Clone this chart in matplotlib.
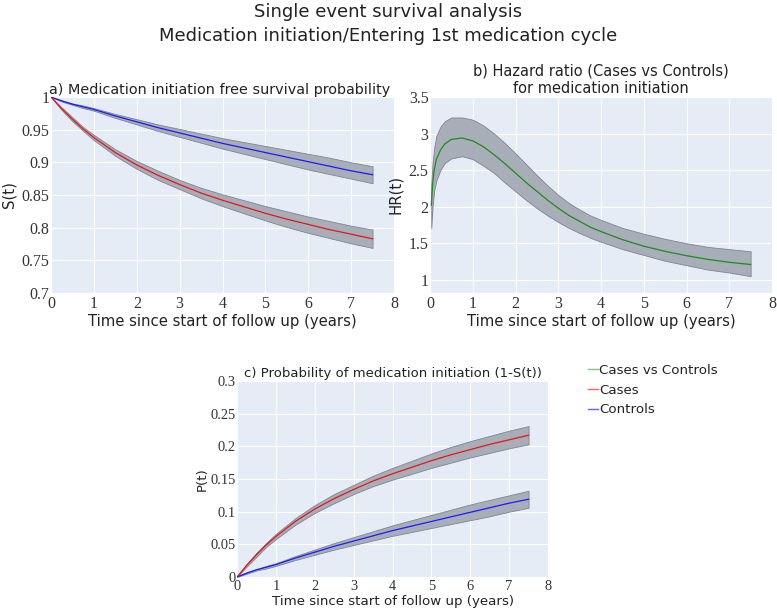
import matplotlib
matplotlib.use("Agg")
import matplotlib.pyplot as plt
import numpy as np

# ---------------- data ----------------
t_surv = [0, 0.25, 0.5, 0.75, 1, 1.5, 2, 2.5, 3, 3.5, 4, 4.5, 5, 5.5, 6, 6.5, 7, 7.5]
# probability of medication initiation (1 - S(t))
p_cases = [0, 0.018, 0.034, 0.049, 0.062, 0.085, 0.104, 0.120, 0.134, 0.147, 0.158,
           0.168, 0.178, 0.187, 0.195, 0.203, 0.210, 0.217]
p_cases_lo = [0, 0.016, 0.031, 0.046, 0.058, 0.080, 0.098, 0.113, 0.127, 0.139, 0.149,
              0.158, 0.167, 0.175, 0.183, 0.190, 0.197, 0.203]
p_cases_hi = [0, 0.020, 0.037, 0.052, 0.066, 0.090, 0.110, 0.127, 0.141, 0.155, 0.167,
              0.178, 0.189, 0.199, 0.208, 0.216, 0.224, 0.231]
p_ctrl = [0, 0.006, 0.011, 0.015, 0.019, 0.029, 0.038, 0.047, 0.055, 0.063, 0.071,
          0.078, 0.085, 0.092, 0.099, 0.106, 0.113, 0.119]
p_ctrl_lo = [0, 0.005, 0.010, 0.013, 0.017, 0.026, 0.034, 0.042, 0.049, 0.056, 0.063,
             0.069, 0.075, 0.081, 0.087, 0.093, 0.100, 0.106]
p_ctrl_hi = [0, 0.007, 0.012, 0.017, 0.021, 0.032, 0.042, 0.052, 0.061, 0.070, 0.079,
             0.087, 0.095, 0.103, 0.111, 0.118, 0.125, 0.132]

t_hr = [0.03, 0.06, 0.1, 0.15, 0.25, 0.35, 0.5, 0.75, 1, 1.25, 1.5, 1.75, 2, 2.25, 2.5,
        2.75, 3, 3.25, 3.5, 3.75, 4, 4.5, 5, 5.5, 6, 6.5, 7, 7.5]
hr = [2.02, 2.30, 2.51, 2.65, 2.78, 2.86, 2.92, 2.94, 2.90, 2.82, 2.71, 2.59, 2.46, 2.33,
      2.21, 2.09, 1.98, 1.88, 1.80, 1.72, 1.66, 1.55, 1.46, 1.39, 1.33, 1.28, 1.24, 1.21]
hr_hi = [2.30, 2.60, 2.81, 2.97, 3.10, 3.17, 3.22, 3.22, 3.19, 3.11, 3.00, 2.87, 2.73, 2.58,
         2.43, 2.29, 2.16, 2.05, 1.96, 1.88, 1.82, 1.71, 1.63, 1.56, 1.50, 1.45, 1.42, 1.39]
hr_lo = [1.71, 2.00, 2.23, 2.36, 2.51, 2.60, 2.66, 2.69, 2.65, 2.56, 2.46, 2.33, 2.21, 2.09,
         1.98, 1.88, 1.79, 1.71, 1.64, 1.575, 1.52, 1.42, 1.34, 1.26, 1.20, 1.14, 1.10, 1.05]

x_ticks = [0, 1, 2, 3, 4, 5, 6, 7, 8]
yticks_a = [0.7, 0.75, 0.8, 0.85, 0.9, 0.95, 1]
yticks_b = [1, 1.5, 2, 2.5, 3, 3.5]
yticks_c = [0, 0.05, 0.1, 0.15, 0.2, 0.25, 0.3]

legend_labels = ["Cases vs Controls", "Cases", "Controls"]
legend_colors = ["#2ca02c", "#ff0000", "#0000ff"]

# ---------------- style ----------------
BG = "#E5ECF6"
BAND = "#A8AEB8"
BAND_EDGE = "#7E8591"
SANS = ["DejaVu Sans"]
SERIF = ["Liberation Serif"]
RED = "#e8141a"
BLUE = "#1a1aff"
GREEN = "#1f8a1f"
TXT = "#222222"

W, H = 777, 614
fig = plt.figure(figsize=(W / 100, H / 100), dpi=100)


def add_ax(left, top, right, bottom):
    return fig.add_axes([left / W, 1 - bottom / H, (right - left) / W, (bottom - top) / H])


def style(ax, yticks, ylim, ylabel, k=1.0, ylabelpad=4):
    ax.set_facecolor(BG)
    ax.set_xlim(0, 8)
    ax.set_ylim(*ylim)
    ax.set_xticks(x_ticks)
    ax.set_yticks(yticks)
    ax.set_xticklabels([f"{v:g}" for v in x_ticks], fontfamily=SERIF, fontsize=11.5 * k)
    ax.set_yticklabels([f"{v:g}" for v in yticks], fontfamily=SERIF, fontsize=11.5 * k)
    ax.tick_params(axis="y", length=0, pad=1, colors="#333333")
    ax.tick_params(axis="x", length=0, pad=2.5 * k, colors="#333333")
    ax.grid(True, color="white", linewidth=0.8)
    ax.set_axisbelow(True)
    for s in ax.spines.values():
        s.set_visible(False)
    ax.set_xlabel("Time since start of follow up (years)", fontfamily=SANS, fontsize=10.7 * k,
                  color=TXT, labelpad=1)
    ax.set_ylabel(ylabel, fontfamily=SANS, fontsize=10.7 * k, color=TXT, labelpad=ylabelpad)


def band(ax, x, lo, hi):
    ax.fill_between(x, lo, hi, facecolor=BAND, edgecolor=BAND_EDGE, linewidth=0.6, zorder=2)


ta = np.array(t_surv)
# a) survival
axa = add_ax(51, 97, 394, 293)
style(axa, yticks_a, (0.7, 1.0), "S(t)")
band(axa, ta, 1 - np.array(p_ctrl_hi), 1 - np.array(p_ctrl_lo))
band(axa, ta, 1 - np.array(p_cases_hi), 1 - np.array(p_cases_lo))
axa.plot(ta, 1 - np.array(p_ctrl), color=BLUE, lw=0.9, zorder=3)
axa.plot(ta, 1 - np.array(p_cases), color=RED, lw=0.9, zorder=3)
axa.set_title("a) Medication initiation free survival probability", fontfamily=SANS,
              fontsize=10.4, loc="left", pad=2, x=-0.005, color=TXT)

# b) hazard ratio
axb = add_ax(430, 97, 772, 293)
style(axb, yticks_b, (0.82, 3.5), "HR(t)")
band(axb, t_hr, hr_lo, hr_hi)
axb.plot(t_hr, hr, color=GREEN, lw=0.9, zorder=3)
axb.set_title("b) Hazard ratio (Cases vs Controls)\nfor medication initiation",
              fontfamily=SANS, fontsize=10.5, pad=3, color=TXT, linespacing=1.2)

# c) probability (slightly smaller panel, smaller type)
kc = 0.9
axc = add_ax(237, 381, 548, 577)
style(axc, yticks_c, (0, 0.3), "P(t)", k=kc, ylabelpad=1)
band(axc, ta, p_cases_lo, p_cases_hi)
band(axc, ta, p_ctrl_lo, p_ctrl_hi)
axc.plot(ta, p_cases, color=RED, lw=0.9, zorder=3)
axc.plot(ta, p_ctrl, color=BLUE, lw=0.9, zorder=3)
axc.set_title("c) Probability of medication initiation (1-S(t))", fontfamily=SANS,
              fontsize=10.6 * kc, pad=3, color=TXT)

# legend
handles = [plt.Line2D([], [], color=c, lw=1, alpha=0.6) for c in legend_colors]
fig.legend(handles, legend_labels, loc="upper left", bbox_to_anchor=(588 / W, 1 - 364 / H),
           frameon=False, prop={"family": SANS, "size": 9.6}, handlelength=0.75,
           handletextpad=0.1, labelspacing=0.5, borderaxespad=0, borderpad=0,
           labelcolor=TXT)

fig.text(0.5, 1 - 3 / H, "Single event survival analysis\nMedication initiation/Entering 1st medication cycle",
         ha="center", va="top", fontfamily=SANS, fontsize=13, color=TXT, linespacing=1.45)

fig.savefig("out.png", dpi=100, facecolor="white")
